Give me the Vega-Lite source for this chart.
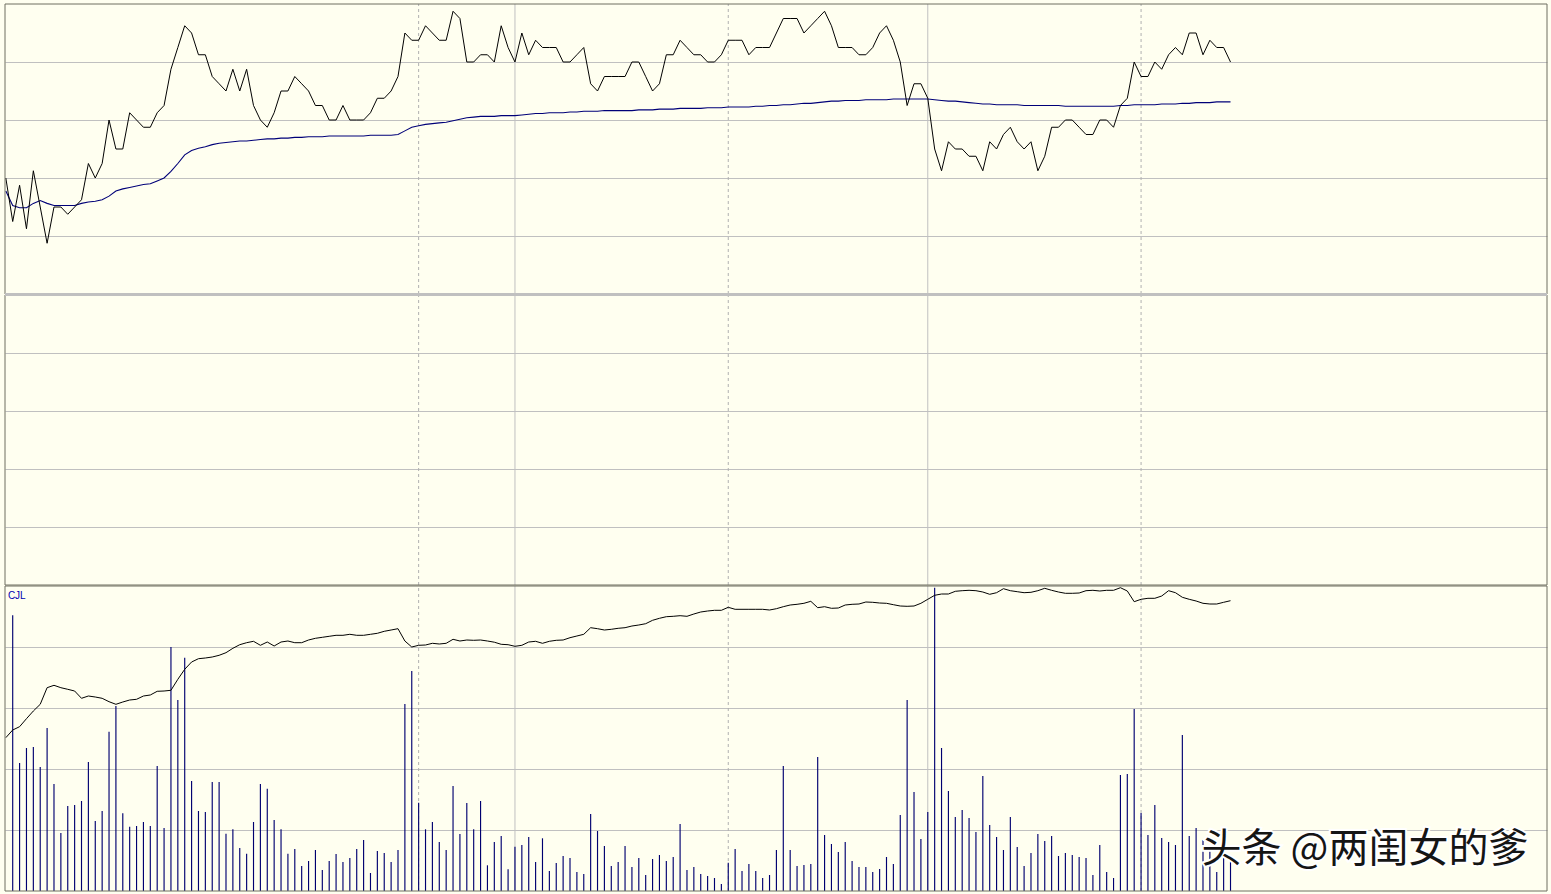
{
"$schema":"https://vega.github.io/schema/vega-lite/v6.json",
"background":"#FFFFF0",
"padding":{"left":3,"top":3,"right":5,"bottom":2},
"spacing":1,
"bounds":"flush",
"config":{"view":{"stroke":null,"fill":"#FFFFF0"},"axis":{"labels":false,"ticks":false,"domain":false,"grid":false},"axisY":{"grid":true,"gridColor":"#c0c0c0","gridWidth":1,"gridOpacity":1}},
"datasets":{
"solid":[{"t":74},{"t":134}],
"dashed":[{"t":60},{"t":105},{"t":165}],
"one":[{}],
"m":[
{"i":0,"p":10.00,"a":9.982,"c":1533},
{"i":1,"p":9.94,"a":9.962,"v":2757,"c":1610},
{"i":2,"p":9.99,"a":9.959,"v":1280,"c":1643},
{"i":3,"p":9.93,"a":9.959,"v":1430,"c":1723},
{"i":4,"p":10.01,"a":9.965,"v":1440,"c":1800},
{"i":5,"p":9.96,"a":9.969,"v":1240,"c":1867},
{"i":6,"p":9.91,"a":9.965,"v":1630,"c":2033},
{"i":7,"p":9.96,"a":9.962,"v":1070,"c":2057},
{"i":8,"p":9.96,"a":9.962,"v":580,"c":2033},
{"i":9,"p":9.95,"a":9.962,"v":850,"c":2017},
{"i":10,"p":9.96,"a":9.962,"v":860,"c":2000},
{"i":11,"p":9.97,"a":9.965,"v":900,"c":1927},
{"i":12,"p":10.02,"a":9.967,"v":1290,"c":1950},
{"i":13,"p":10.00,"a":9.968,"v":700,"c":1940},
{"i":14,"p":10.02,"a":9.970,"v":800,"c":1927},
{"i":15,"p":10.08,"a":9.975,"v":1593,"c":1893},
{"i":16,"p":10.04,"a":9.982,"v":1850,"c":1867},
{"i":17,"p":10.04,"a":9.985,"v":777,"c":1890},
{"i":18,"p":10.09,"a":9.987,"v":643,"c":1910},
{"i":19,"p":10.08,"a":9.989,"v":650,"c":1917},
{"i":20,"p":10.07,"a":9.991,"v":690,"c":1950},
{"i":21,"p":10.07,"a":9.992,"v":650,"c":1960},
{"i":22,"p":10.09,"a":9.996,"v":1250,"c":1997},
{"i":23,"p":10.10,"a":10.000,"v":630,"c":2000},
{"i":24,"p":10.15,"a":10.009,"v":2440,"c":2007},
{"i":25,"p":10.18,"a":10.020,"v":1910,"c":2117},
{"i":26,"p":10.21,"a":10.032,"v":2333,"c":2217},
{"i":27,"p":10.20,"a":10.038,"v":1100,"c":2290},
{"i":28,"p":10.17,"a":10.041,"v":800,"c":2323},
{"i":29,"p":10.17,"a":10.043,"v":790,"c":2330},
{"i":30,"p":10.14,"a":10.046,"v":1090,"c":2340},
{"i":31,"p":10.13,"a":10.048,"v":1090,"c":2357},
{"i":32,"p":10.12,"a":10.049,"v":573,"c":2383},
{"i":33,"p":10.15,"a":10.050,"v":617,"c":2427},
{"i":34,"p":10.12,"a":10.051,"v":430,"c":2463},
{"i":35,"p":10.15,"a":10.051,"v":373,"c":2483},
{"i":36,"p":10.10,"a":10.052,"v":690,"c":2497},
{"i":37,"p":10.08,"a":10.053,"v":1070,"c":2457},
{"i":38,"p":10.07,"a":10.054,"v":1023,"c":2490},
{"i":39,"p":10.09,"a":10.054,"v":710,"c":2450},
{"i":40,"p":10.12,"a":10.055,"v":617,"c":2490},
{"i":41,"p":10.12,"a":10.055,"v":373,"c":2500},
{"i":42,"p":10.14,"a":10.056,"v":420,"c":2483},
{"i":43,"p":10.13,"a":10.056,"v":250,"c":2483},
{"i":44,"p":10.12,"a":10.057,"v":300,"c":2510},
{"i":45,"p":10.10,"a":10.057,"v":410,"c":2527},
{"i":46,"p":10.10,"a":10.057,"v":210,"c":2537},
{"i":47,"p":10.08,"a":10.058,"v":300,"c":2547},
{"i":48,"p":10.08,"a":10.058,"v":370,"c":2557},
{"i":49,"p":10.10,"a":10.058,"v":290,"c":2557},
{"i":50,"p":10.08,"a":10.058,"v":330,"c":2567},
{"i":51,"p":10.08,"a":10.058,"v":420,"c":2557},
{"i":52,"p":10.08,"a":10.058,"v":510,"c":2557},
{"i":53,"p":10.09,"a":10.059,"v":180,"c":2567},
{"i":54,"p":10.11,"a":10.059,"v":400,"c":2577},
{"i":55,"p":10.11,"a":10.059,"v":380,"c":2597},
{"i":56,"p":10.12,"a":10.059,"v":290,"c":2610},
{"i":57,"p":10.14,"a":10.060,"v":410,"c":2623},
{"i":58,"p":10.20,"a":10.065,"v":1870,"c":2500},
{"i":59,"p":10.19,"a":10.070,"v":2200,"c":2440},
{"i":60,"p":10.19,"a":10.072,"v":883,"c":2457},
{"i":61,"p":10.21,"a":10.074,"v":617,"c":2460},
{"i":62,"p":10.20,"a":10.075,"v":690,"c":2477},
{"i":63,"p":10.19,"a":10.076,"v":490,"c":2470},
{"i":64,"p":10.19,"a":10.077,"v":410,"c":2477},
{"i":65,"p":10.23,"a":10.079,"v":1050,"c":2517},
{"i":66,"p":10.22,"a":10.081,"v":570,"c":2500},
{"i":67,"p":10.16,"a":10.083,"v":880,"c":2510},
{"i":68,"p":10.16,"a":10.084,"v":617,"c":2507},
{"i":69,"p":10.17,"a":10.085,"v":900,"c":2510},
{"i":70,"p":10.17,"a":10.085,"v":257,"c":2500},
{"i":71,"p":10.16,"a":10.085,"v":490,"c":2488},
{"i":72,"p":10.21,"a":10.086,"v":550,"c":2467},
{"i":73,"p":10.18,"a":10.086,"v":217,"c":2463},
{"i":74,"p":10.16,"a":10.086,"v":443,"c":2447},
{"i":75,"p":10.20,"a":10.087,"v":460,"c":2457},
{"i":76,"p":10.17,"a":10.088,"v":540,"c":2490},
{"i":77,"p":10.19,"a":10.089,"v":290,"c":2497},
{"i":78,"p":10.18,"a":10.089,"v":527,"c":2477},
{"i":79,"p":10.18,"a":10.090,"v":200,"c":2497},
{"i":80,"p":10.18,"a":10.090,"v":280,"c":2507},
{"i":81,"p":10.16,"a":10.090,"v":350,"c":2510},
{"i":82,"p":10.16,"a":10.091,"v":330,"c":2533},
{"i":83,"p":10.17,"a":10.091,"v":190,"c":2550},
{"i":84,"p":10.18,"a":10.092,"v":170,"c":2567},
{"i":85,"p":10.13,"a":10.092,"v":770,"c":2633},
{"i":86,"p":10.12,"a":10.092,"v":600,"c":2623},
{"i":87,"p":10.14,"a":10.093,"v":450,"c":2610},
{"i":88,"p":10.14,"a":10.093,"v":250,"c":2617},
{"i":89,"p":10.14,"a":10.093,"v":290,"c":2627},
{"i":90,"p":10.14,"a":10.093,"v":450,"c":2633},
{"i":91,"p":10.16,"a":10.093,"v":240,"c":2650},
{"i":92,"p":10.16,"a":10.094,"v":330,"c":2660},
{"i":93,"p":10.14,"a":10.094,"v":160,"c":2673},
{"i":94,"p":10.12,"a":10.094,"v":320,"c":2707},
{"i":95,"p":10.13,"a":10.095,"v":360,"c":2727},
{"i":96,"p":10.17,"a":10.095,"v":300,"c":2743},
{"i":97,"p":10.17,"a":10.095,"v":340,"c":2747},
{"i":98,"p":10.19,"a":10.096,"v":670,"c":2753},
{"i":99,"p":10.18,"a":10.096,"v":210,"c":2747},
{"i":100,"p":10.17,"a":10.096,"v":240,"c":2770},
{"i":101,"p":10.17,"a":10.096,"v":170,"c":2790},
{"i":102,"p":10.16,"a":10.097,"v":150,"c":2800},
{"i":103,"p":10.16,"a":10.097,"v":130,"c":2807},
{"i":104,"p":10.17,"a":10.097,"v":70,"c":2807},
{"i":105,"p":10.19,"a":10.098,"v":283,"c":2837},
{"i":106,"p":10.19,"a":10.098,"v":420,"c":2817},
{"i":107,"p":10.19,"a":10.098,"v":200,"c":2817},
{"i":108,"p":10.17,"a":10.098,"v":270,"c":2817},
{"i":109,"p":10.18,"a":10.099,"v":200,"c":2817},
{"i":110,"p":10.18,"a":10.099,"v":130,"c":2817},
{"i":111,"p":10.18,"a":10.100,"v":160,"c":2810},
{"i":112,"p":10.20,"a":10.100,"v":410,"c":2823},
{"i":113,"p":10.22,"a":10.101,"v":1250,"c":2843},
{"i":114,"p":10.22,"a":10.101,"v":410,"c":2860},
{"i":115,"p":10.22,"a":10.102,"v":250,"c":2867},
{"i":116,"p":10.20,"a":10.103,"v":260,"c":2877},
{"i":117,"p":10.21,"a":10.103,"v":270,"c":2897},
{"i":118,"p":10.22,"a":10.104,"v":1340,"c":2833},
{"i":119,"p":10.23,"a":10.105,"v":560,"c":2843},
{"i":120,"p":10.21,"a":10.106,"v":470,"c":2827},
{"i":121,"p":10.18,"a":10.106,"v":390,"c":2830},
{"i":122,"p":10.18,"a":10.107,"v":490,"c":2860},
{"i":123,"p":10.18,"a":10.107,"v":300,"c":2867},
{"i":124,"p":10.17,"a":10.107,"v":240,"c":2870},
{"i":125,"p":10.17,"a":10.108,"v":240,"c":2890},
{"i":126,"p":10.18,"a":10.108,"v":190,"c":2887},
{"i":127,"p":10.20,"a":10.108,"v":220,"c":2880},
{"i":128,"p":10.21,"a":10.108,"v":340,"c":2877},
{"i":129,"p":10.19,"a":10.109,"v":270,"c":2863},
{"i":130,"p":10.16,"a":10.109,"v":760,"c":2850},
{"i":131,"p":10.10,"a":10.109,"v":1910,"c":2847},
{"i":132,"p":10.13,"a":10.109,"v":990,"c":2850},
{"i":133,"p":10.13,"a":10.109,"v":520,"c":2877},
{"i":134,"p":10.11,"a":10.109,"v":790,"c":2917},
{"i":135,"p":10.04,"a":10.108,"v":3033,"c":2957},
{"i":136,"p":10.01,"a":10.107,"v":1430,"c":2970},
{"i":137,"p":10.05,"a":10.106,"v":1000,"c":2970},
{"i":138,"p":10.04,"a":10.106,"v":740,"c":2997},
{"i":139,"p":10.04,"a":10.105,"v":810,"c":3003},
{"i":140,"p":10.03,"a":10.104,"v":730,"c":3007},
{"i":141,"p":10.03,"a":10.103,"v":590,"c":3003},
{"i":142,"p":10.01,"a":10.102,"v":1150,"c":2990},
{"i":143,"p":10.05,"a":10.102,"v":660,"c":2967},
{"i":144,"p":10.04,"a":10.101,"v":540,"c":2983},
{"i":145,"p":10.06,"a":10.101,"v":410,"c":3023},
{"i":146,"p":10.07,"a":10.101,"v":740,"c":3003},
{"i":147,"p":10.05,"a":10.101,"v":440,"c":2993},
{"i":148,"p":10.04,"a":10.100,"v":250,"c":2983},
{"i":149,"p":10.05,"a":10.100,"v":380,"c":2987},
{"i":150,"p":10.01,"a":10.100,"v":570,"c":3003},
{"i":151,"p":10.03,"a":10.100,"v":500,"c":3027},
{"i":152,"p":10.07,"a":10.100,"v":550,"c":3007},
{"i":153,"p":10.07,"a":10.100,"v":350,"c":2990},
{"i":154,"p":10.08,"a":10.099,"v":380,"c":2977},
{"i":155,"p":10.08,"a":10.099,"v":360,"c":2977},
{"i":156,"p":10.07,"a":10.099,"v":340,"c":2980},
{"i":157,"p":10.06,"a":10.099,"v":330,"c":3003},
{"i":158,"p":10.06,"a":10.099,"v":160,"c":3007},
{"i":159,"p":10.08,"a":10.099,"v":460,"c":3000},
{"i":160,"p":10.08,"a":10.099,"v":190,"c":3007},
{"i":161,"p":10.07,"a":10.099,"v":130,"c":3007},
{"i":162,"p":10.10,"a":10.100,"v":1160,"c":3033},
{"i":163,"p":10.11,"a":10.100,"v":1170,"c":3000},
{"i":164,"p":10.16,"a":10.101,"v":1820,"c":2893},
{"i":165,"p":10.14,"a":10.101,"v":780,"c":2917},
{"i":166,"p":10.14,"a":10.101,"v":560,"c":2927},
{"i":167,"p":10.16,"a":10.101,"v":860,"c":2927},
{"i":168,"p":10.15,"a":10.102,"v":530,"c":2950},
{"i":169,"p":10.17,"a":10.102,"v":490,"c":3003},
{"i":170,"p":10.18,"a":10.102,"v":460,"c":2983},
{"i":171,"p":10.17,"a":10.103,"v":1560,"c":2937},
{"i":172,"p":10.20,"a":10.103,"v":550,"c":2917},
{"i":173,"p":10.20,"a":10.104,"v":630,"c":2900},
{"i":174,"p":10.17,"a":10.104,"v":510,"c":2877},
{"i":175,"p":10.19,"a":10.104,"v":460,"c":2870},
{"i":176,"p":10.18,"a":10.105,"v":190,"c":2870},
{"i":177,"p":10.18,"a":10.105,"v":410,"c":2887},
{"i":178,"p":10.16,"a":10.105,"v":310,"c":2903}
]},
"vconcat":[
{"width":1542,"height":290,
 "layer":[
  {"data":{"name":"solid"},"mark":{"type":"rule","color":"#c0c0c0","strokeWidth":1},
   "encoding":{"x":{"field":"t","type":"quantitative","scale":{"domain":[-0.12,224],"nice":false,"zero":false},"axis":null},
    "y":{"datum":9.84,"type":"quantitative","scale":{"domain":[9.84,10.24],"nice":false,"zero":false},"axis":{"values":[9.92,10.0,10.08,10.16]},"title":null},
    "y2":{"datum":10.24}}},
  {"data":{"name":"dashed"},"mark":{"type":"rule","color":"#b0b0b0","strokeWidth":1,"strokeDash":[3,3]},
   "encoding":{"x":{"field":"t","type":"quantitative","axis":null},
    "y":{"datum":9.84,"type":"quantitative","axis":{"values":[9.92,10.0,10.08,10.16]},"title":null},
    "y2":{"datum":10.24}}},
  {"data":{"name":"m"},"mark":{"type":"line","color":"#000078","strokeWidth":1.1},
   "encoding":{"x":{"field":"i","type":"quantitative","axis":null},"y":{"field":"a","type":"quantitative","axis":{"values":[9.92,10.0,10.08,10.16]},"title":null}}},
  {"data":{"name":"m"},"mark":{"type":"line","color":"#000000","strokeWidth":1},
   "encoding":{"x":{"field":"i","type":"quantitative","axis":null},"y":{"field":"p","type":"quantitative","axis":{"values":[9.92,10.0,10.08,10.16]},"title":null}}},
  {"data":{"name":"one"},"mark":{"type":"rule","color":"#6e6e60","strokeWidth":1},"encoding":{"x":{"datum":-0.12,"type":"quantitative","axis":null}}},
  {"data":{"name":"one"},"mark":{"type":"rule","color":"#6e6e60","strokeWidth":1},"encoding":{"x":{"datum":224,"type":"quantitative","axis":null}}},
  {"data":{"name":"one"},"mark":{"type":"rule","color":"#6e6e60","strokeWidth":1},"encoding":{"y":{"datum":10.24,"type":"quantitative","axis":{"values":[9.92,10.0,10.08,10.16]},"title":null}}},
  {"data":{"name":"one"},"mark":{"type":"rule","color":"#c0c0c0","strokeWidth":2},"encoding":{"y":{"datum":9.84,"type":"quantitative","axis":{"values":[9.92,10.0,10.08,10.16]},"title":null}}}
 ]},
{"width":1542,"height":290,
 "layer":[
  {"data":{"name":"solid"},"mark":{"type":"rule","color":"#c0c0c0","strokeWidth":1},
   "encoding":{"x":{"field":"t","type":"quantitative","scale":{"domain":[-0.12,224],"nice":false,"zero":false},"axis":null},
    "y":{"datum":0,"type":"quantitative","scale":{"domain":[0,5],"nice":false,"zero":false},"axis":{"values":[1,2,3,4]},"title":null},
    "y2":{"datum":5}}},
  {"data":{"name":"dashed"},"mark":{"type":"rule","color":"#b0b0b0","strokeWidth":1,"strokeDash":[3,3]},
   "encoding":{"x":{"field":"t","type":"quantitative","axis":null},
    "y":{"datum":0,"type":"quantitative","axis":{"values":[1,2,3,4]},"title":null},
    "y2":{"datum":5}}},
  {"data":{"name":"one"},"mark":{"type":"rule","color":"#6e6e60","strokeWidth":1},"encoding":{"x":{"datum":-0.12,"type":"quantitative","axis":null}}},
  {"data":{"name":"one"},"mark":{"type":"rule","color":"#6e6e60","strokeWidth":1},"encoding":{"x":{"datum":224,"type":"quantitative","axis":null}}},
  {"data":{"name":"one"},"mark":{"type":"rule","color":"#c0c0c0","strokeWidth":2},"encoding":{"y":{"datum":5,"type":"quantitative","axis":{"values":[1,2,3,4]},"title":null}}},
  {"data":{"name":"one"},"mark":{"type":"rule","color":"#6e6e60","strokeWidth":1},"encoding":{"y":{"datum":0,"type":"quantitative","axis":{"values":[1,2,3,4]},"title":null}}}
 ]},
{"width":1542,"height":305,
 "layer":[
  {"data":{"name":"solid"},"mark":{"type":"rule","color":"#c0c0c0","strokeWidth":1},
   "encoding":{"x":{"field":"t","type":"quantitative","scale":{"domain":[-0.12,224],"nice":false,"zero":false},"axis":null},
    "y":{"datum":0,"type":"quantitative","scale":{"domain":[0,3050],"nice":false,"zero":false},"axis":{"values":[610,1220,1830,2440]},"title":null},
    "y2":{"datum":3050}}},
  {"data":{"name":"dashed"},"mark":{"type":"rule","color":"#b0b0b0","strokeWidth":1,"strokeDash":[3,3]},
   "encoding":{"x":{"field":"t","type":"quantitative","axis":null},
    "y":{"datum":0,"type":"quantitative","axis":{"values":[610,1220,1830,2440]},"title":null},
    "y2":{"datum":3050}}},
  {"data":{"name":"m"},"mark":{"type":"rule","color":"#000070","strokeWidth":1.15},
   "encoding":{"x":{"field":"i","type":"quantitative","axis":null},"y":{"field":"v","type":"quantitative","axis":{"values":[610,1220,1830,2440]},"title":null},"y2":{"datum":0}}},
  {"data":{"name":"m"},"mark":{"type":"line","color":"#000000","strokeWidth":1},
   "encoding":{"x":{"field":"i","type":"quantitative","axis":null},"y":{"field":"c","type":"quantitative","axis":{"values":[610,1220,1830,2440]},"title":null}}},
  {"data":{"name":"one"},"mark":{"type":"text","text":"CJL","font":"Liberation Sans","fontSize":10,"color":"#0000b0","align":"left","baseline":"middle"},
   "encoding":{"x":{"datum":0.3,"type":"quantitative","axis":null},"y":{"datum":2950,"type":"quantitative","axis":{"values":[610,1220,1830,2440]},"title":null}}},
  {"data":{"name":"one"},"mark":{"type":"text","text":"头条 @两闺女的爹","font":"Noto Sans CJK SC","fontSize":40,"fill":"#ffffff","stroke":"#ffffff","strokeWidth":4,"align":"left","baseline":"middle"},
   "encoding":{"x":{"datum":173.8,"type":"quantitative","axis":null},"y":{"datum":415,"type":"quantitative","axis":{"values":[610,1220,1830,2440]},"title":null}}},
  {"data":{"name":"one"},"mark":{"type":"text","text":"头条 @两闺女的爹","font":"Noto Sans CJK SC","fontSize":40,"color":"#151515","align":"left","baseline":"middle"},
   "encoding":{"x":{"datum":173.8,"type":"quantitative","axis":null},"y":{"datum":415,"type":"quantitative","axis":{"values":[610,1220,1830,2440]},"title":null}}},
  {"data":{"name":"one"},"mark":{"type":"rule","color":"#6e6e60","strokeWidth":1},"encoding":{"x":{"datum":-0.12,"type":"quantitative","axis":null}}},
  {"data":{"name":"one"},"mark":{"type":"rule","color":"#6e6e60","strokeWidth":1},"encoding":{"x":{"datum":224,"type":"quantitative","axis":null}}},
  {"data":{"name":"one"},"mark":{"type":"rule","color":"#6e6e60","strokeWidth":1},"encoding":{"y":{"datum":3050,"type":"quantitative","axis":{"values":[610,1220,1830,2440]},"title":null}}},
  {"data":{"name":"one"},"mark":{"type":"rule","color":"#6e6e60","strokeWidth":1},"encoding":{"y":{"datum":0,"type":"quantitative","axis":{"values":[610,1220,1830,2440]},"title":null}}}
 ]}
]
}
